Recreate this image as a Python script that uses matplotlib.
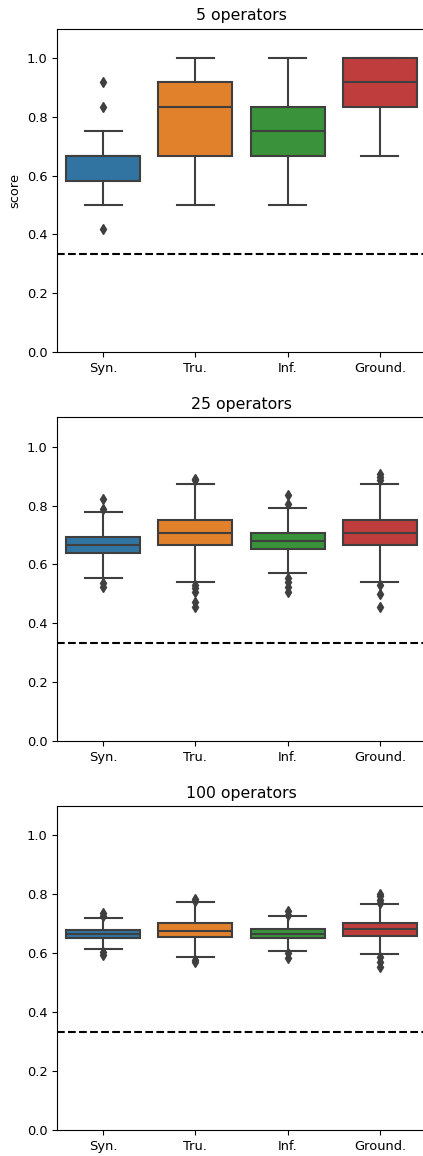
import matplotlib
matplotlib.use("Agg")
import matplotlib.pyplot as plt

categories = ["Syn.", "Tru.", "Inf.", "Ground."]
titles = ["5 operators", "25 operators", "100 operators"]
colors = ["#3274a1", "#e1812c", "#3a923a", "#c03d3e"]
chance = 1.0 / 3.0

# per panel, per category: q1, median, q3, whislo, whishi
q1 = [
    [0.583, 0.667, 0.667, 0.833],
    [0.638, 0.667, 0.652, 0.667],
    [0.653, 0.656, 0.653, 0.660],
]
med = [
    [0.667, 0.833, 0.750, 0.917],
    [0.667, 0.708, 0.681, 0.708],
    [0.667, 0.677, 0.667, 0.681],
]
q3 = [
    [0.667, 0.917, 0.833, 1.000],
    [0.694, 0.750, 0.708, 0.750],
    [0.680, 0.704, 0.684, 0.704],
]
whislo = [
    [0.500, 0.500, 0.500, 0.667],
    [0.555, 0.541, 0.570, 0.540],
    [0.616, 0.587, 0.609, 0.597],
]
whishi = [
    [0.750, 1.000, 1.000, 1.000],
    [0.777, 0.874, 0.792, 0.874],
    [0.721, 0.775, 0.727, 0.768],
]
fliers = [
    [[0.917, 0.833, 0.417], [], [], []],
    [[0.821, 0.790, 0.538, 0.524],
     [0.892, 0.887, 0.530, 0.519, 0.507, 0.473, 0.456],
     [0.835, 0.805, 0.553, 0.541, 0.524, 0.507],
     [0.909, 0.896, 0.887, 0.529, 0.499, 0.456]],
    [[0.736, 0.725, 0.606, 0.595],
     [0.784, 0.776, 0.578, 0.569],
     [0.745, 0.730, 0.600, 0.583],
     [0.801, 0.793, 0.781, 0.772, 0.589, 0.572, 0.555]],
]

W, H = 423, 1156
fig = plt.figure(figsize=(W / 100, H / 100), dpi=100)
gray = "#3f3f3f"
tops = [28.6, 417.3, 806.0]
bottoms = [352.0, 741.0, 1130.0]
left_px, right_px = 57.0, 426.0

for p in range(3):
    ax = fig.add_axes([left_px / W, 1 - bottoms[p] / H,
                       (right_px - left_px) / W, (bottoms[p] - tops[p]) / H])
    stats = []
    for i, c in enumerate(categories):
        stats.append(dict(q1=q1[p][i], med=med[p][i], q3=q3[p][i],
                          whislo=whislo[p][i], whishi=whishi[p][i],
                          fliers=fliers[p][i], label=c))
    bp = ax.bxp(stats, positions=range(len(categories)), widths=0.8,
                patch_artist=True,
                boxprops=dict(edgecolor=gray, linewidth=1.5),
                medianprops=dict(color=gray, linewidth=1.5),
                whiskerprops=dict(color=gray, linewidth=1.5),
                capprops=dict(color=gray, linewidth=1.5),
                flierprops=dict(marker="d", markerfacecolor=gray,
                                markeredgecolor=gray, markersize=5,
                                linestyle="none"))
    for patch, col in zip(bp["boxes"], colors):
        patch.set_facecolor(col)
    ax.axhline(chance, color="black", linestyle="--", linewidth=1.5)
    ax.set_xlim(-0.5, 3.5)
    ax.set_ylim(0, 1.1)
    ax.set_yticks([0.0, 0.2, 0.4, 0.6, 0.8, 1.0])
    ax.set_xticks(range(len(categories)))
    ax.set_xticklabels(categories)
    ax.tick_params(labelsize=9.4)
    ax.set_title(titles[p], fontsize=11.3)
    if p == 0:
        ax.set_ylabel("score", fontsize=9.4)

fig.savefig("out.png", dpi=100)
